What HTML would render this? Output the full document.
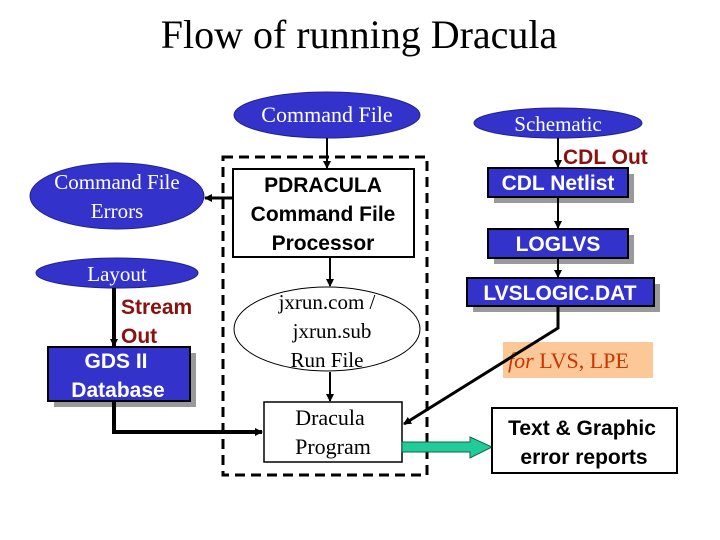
<!DOCTYPE html>
<html><head><meta charset="utf-8"><style>
body{margin:0;background:#fff;}
svg{display:block;}
.s{font-family:"Liberation Serif",serif;}
.b{font-family:"Liberation Sans",sans-serif;font-weight:bold;}
</style></head><body>
<svg width="720" height="540" viewBox="0 0 720 540" xmlns="http://www.w3.org/2000/svg">
<defs>
<marker id="a" markerWidth="8" markerHeight="8" refX="7" refY="4" orient="auto" markerUnits="userSpaceOnUse"><path d="M0,0 L8,4 L0,8 z" fill="#000"/></marker>
</defs>
<text x="359" y="48" text-anchor="middle" class="s" font-size="40">Flow of running Dracula</text>

<rect x="223" y="157" width="204" height="318" fill="none" stroke="#000" stroke-width="3" stroke-dasharray="10,6"/>

<ellipse cx="327" cy="115" rx="93" ry="23" fill="#3333cc" stroke="#222288"/>
<text x="327" y="122" text-anchor="middle" class="s" font-size="22" fill="#fff">Command File</text>
<line x1="327" y1="138" x2="327" y2="168" stroke="#000" stroke-width="2" marker-end="url(#a)"/>

<rect x="233" y="169" width="181" height="88" fill="#fff" stroke="#000" stroke-width="2"/>
<text x="323" y="192" text-anchor="middle" class="b" font-size="21">PDRACULA</text>
<text x="323" y="221" text-anchor="middle" class="b" font-size="21">Command File</text>
<text x="323" y="250" text-anchor="middle" class="b" font-size="21">Processor</text>

<ellipse cx="117" cy="196" rx="87" ry="33" fill="#3333cc" stroke="#222288"/>
<text x="117" y="189" text-anchor="middle" class="s" font-size="21" fill="#fff">Command File</text>
<text x="117" y="218" text-anchor="middle" class="s" font-size="21" fill="#fff">Errors</text>
<line x1="233" y1="198" x2="205" y2="198" stroke="#000" stroke-width="3" marker-end="url(#a)"/>

<ellipse cx="117" cy="273" rx="81" ry="15" fill="#3333cc" stroke="#222288"/>
<text x="117" y="281" text-anchor="middle" class="s" font-size="21" fill="#fff">Layout</text>
<line x1="114" y1="288" x2="114" y2="346" stroke="#000" stroke-width="4" marker-end="url(#a)"/>
<text x="121" y="314" class="b" font-size="21" fill="#8b1010">Stream</text>
<text x="121" y="343" class="b" font-size="21" fill="#8b1010">Out</text>

<rect x="54" y="353" width="142" height="54" fill="#999"/>
<rect x="48" y="347" width="142" height="54" fill="#3333cc" stroke="#000" stroke-width="2"/>
<text x="116" y="368" text-anchor="middle" class="b" font-size="21" fill="#fff">GDS II</text>
<text x="118" y="397" text-anchor="middle" class="b" font-size="21" fill="#fff">Database</text>
<polyline points="114,401 114,432 262,432" fill="none" stroke="#000" stroke-width="4" marker-end="url(#a)"/>

<line x1="330" y1="257" x2="330" y2="286" stroke="#000" stroke-width="2" marker-end="url(#a)"/>
<ellipse cx="327" cy="329" rx="93" ry="42" fill="#fff" stroke="#000" stroke-width="1"/>
<text x="327" y="309" text-anchor="middle" class="s" font-size="21">jxrun.com /</text>
<text x="332" y="338" text-anchor="middle" class="s" font-size="21">jxrun.sub</text>
<text x="327" y="367" text-anchor="middle" class="s" font-size="21">Run File</text>
<line x1="330" y1="372" x2="330" y2="401" stroke="#000" stroke-width="2" marker-end="url(#a)"/>

<rect x="264" y="402" width="138" height="60" fill="#fff" stroke="#000" stroke-width="1.5"/>
<text x="330" y="425" text-anchor="middle" class="s" font-size="22">Dracula</text>
<text x="333" y="454" text-anchor="middle" class="s" font-size="22">Program</text>

<path d="M402,442 L470,442 L470,437 L492,447 L470,458 L470,452 L402,452 z" fill="#22cc99" stroke="#116644" stroke-width="1"/>

<rect x="492" y="408" width="185" height="65" fill="#fff" stroke="#000" stroke-width="2"/>
<text x="582" y="435" text-anchor="middle" class="b" font-size="21">Text &amp; Graphic</text>
<text x="584" y="464" text-anchor="middle" class="b" font-size="21">error reports</text>

<ellipse cx="558" cy="123" rx="84" ry="15" fill="#3333cc" stroke="#222288"/>
<text x="558" y="131" text-anchor="middle" class="s" font-size="21" fill="#fff">Schematic</text>
<line x1="558" y1="138" x2="558" y2="167" stroke="#000" stroke-width="2" marker-end="url(#a)"/>
<text x="563" y="164" class="b" font-size="21" fill="#8b1010">CDL Out</text>

<rect x="494" y="174" width="140" height="29" fill="#999"/>
<rect x="488" y="168" width="140" height="29" fill="#3333cc" stroke="#000" stroke-width="2"/>
<text x="558" y="190" text-anchor="middle" class="b" font-size="21" fill="#fff">CDL Netlist</text>
<line x1="558" y1="197" x2="558" y2="228" stroke="#000" stroke-width="2" marker-end="url(#a)"/>

<rect x="494" y="235" width="140" height="29" fill="#999"/>
<rect x="488" y="229" width="140" height="29" fill="#3333cc" stroke="#000" stroke-width="2"/>
<text x="558" y="251" text-anchor="middle" class="b" font-size="21" fill="#fff">LOGLVS</text>
<line x1="558" y1="258" x2="558" y2="277" stroke="#000" stroke-width="2" marker-end="url(#a)"/>

<rect x="473" y="284" width="187" height="28" fill="#999"/>
<rect x="467" y="278" width="187" height="28" fill="#3333cc" stroke="#000" stroke-width="2"/>
<text x="560" y="300" text-anchor="middle" class="b" font-size="21" fill="#fff">LVSLOGIC.DAT</text>

<rect x="503" y="342" width="150" height="36" fill="#fcc898"/>
<text x="508" y="368" class="s" font-size="22" fill="#cc3300"><tspan font-style="italic">for</tspan> LVS, LPE</text>

<polyline points="558,306 558,328 404,424" fill="none" stroke="#000" stroke-width="3" marker-end="url(#a)"/>
</svg>
</body></html>
